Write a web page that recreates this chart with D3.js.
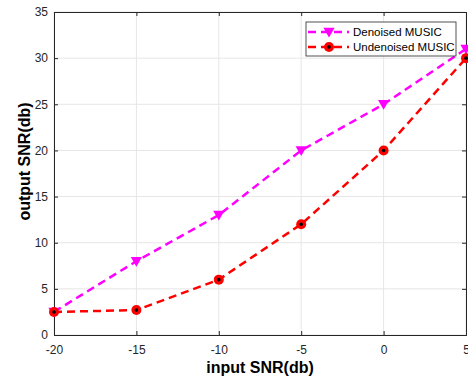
<!DOCTYPE html>
<html>
<head>
<meta charset="utf-8">
<script src="https://cdn.jsdelivr.net/npm/d3@7"></script>
<style>
  body { margin: 0; background: #fff; }
  text { font-family: "Liberation Sans", Arial, sans-serif; }
</style>
</head>
<body>
<div id="chart"></div>
<script>
// input SNR values (x)
const inputSNR = [-20, -15, -10, -5, 0, 5];
// output SNR for each method
const denoised = [2.5, 8, 13, 20, 25, 31];
const undenoised = [2.5, 2.7, 6, 12, 20, 30];
const xTicks = [-20, -15, -10, -5, 0, 5];
const yTicks = [0, 5, 10, 15, 20, 25, 30, 35];
const seriesNames = ["Denoised MUSIC", "Undenoised MUSIC"];

var W = 468, H = 385;
var margin = {top: 12, right: 2, bottom: 50, left: 54};
var width = W - margin.left - margin.right,
    height = H - margin.top - margin.bottom;

var svg = d3.select("#chart").append("svg")
  .attr("width", W).attr("height", H);

var g = svg.append("g")
  .attr("transform", "translate(" + margin.left + "," + margin.top + ")");

var x = d3.scaleLinear().domain([-20, 5]).range([0, width]);
var y = d3.scaleLinear().domain([0, 35]).range([height, 0]);

// grid
g.append("g").selectAll("line").data(xTicks).enter().append("line")
  .attr("x1", d => x(d)).attr("x2", d => x(d))
  .attr("y1", 0).attr("y2", height)
  .attr("stroke", "#e6e6e6").attr("stroke-width", 1);
g.append("g").selectAll("line").data(yTicks).enter().append("line")
  .attr("y1", d => y(d)).attr("y2", d => y(d))
  .attr("x1", 0).attr("x2", width)
  .attr("stroke", "#e6e6e6").attr("stroke-width", 1);

// axes (ticks inward), plain hyphen for negatives like matlab
var fmt = d => String(d);
var axisColor = "#262626";
var xAxis = g.append("g").attr("transform", "translate(0," + height + ")")
  .call(d3.axisBottom(x).tickValues(xTicks).tickFormat(fmt).tickSize(-4).tickPadding(10));
var yAxis = g.append("g")
  .call(d3.axisLeft(y).tickValues(yTicks).tickFormat(fmt).tickSize(-4).tickPadding(6));
var xTop = g.append("g")
  .call(d3.axisTop(x).tickValues(xTicks).tickSize(-4).tickFormat(""));
var yRight = g.append("g").attr("transform", "translate(" + width + ",0)")
  .call(d3.axisRight(y).tickValues(yTicks).tickSize(-4).tickFormat(""));
[xAxis, yAxis, xTop, yRight].forEach(function(a) {
  a.select(".domain").attr("stroke", axisColor).attr("stroke-width", 1);
  a.selectAll(".tick line").attr("stroke", axisColor);
  a.selectAll(".tick text").attr("fill", axisColor)
    .style("font-size", "12px").style("font-family", "Liberation Sans, Arial, sans-serif");
});

// lines
var line = d3.line().x((d, i) => x(inputSNR[i])).y(d => y(d));

g.append("path").datum(undenoised)
  .attr("d", line).attr("fill", "none")
  .attr("stroke", "#ff0000").attr("stroke-width", 2.5)
  .attr("stroke-dasharray", "8,5");
g.append("path").datum(denoised)
  .attr("d", line).attr("fill", "none")
  .attr("stroke", "#ff00ff").attr("stroke-width", 2.5)
  .attr("stroke-dasharray", "8,5");

// markers
var tri = d3.symbol().type(d3.symbolTriangle).size(55);
g.selectAll(".tri").data(denoised).enter().append("path")
  .attr("class", "tri")
  .attr("d", tri)
  .attr("transform", (d, i) => "translate(" + x(inputSNR[i]) + "," + (y(d) - 1) + ") rotate(180)")
  .attr("fill", "#ff00ff");

g.selectAll(".circ").data(undenoised).enter().append("circle")
  .attr("class", "circ")
  .attr("cx", (d, i) => x(inputSNR[i])).attr("cy", d => y(d))
  .attr("r", 5).attr("fill", "#ff0000");
g.selectAll(".dot").data(undenoised).enter().append("circle")
  .attr("class", "dot")
  .attr("cx", (d, i) => x(inputSNR[i])).attr("cy", d => y(d))
  .attr("r", 1.8).attr("fill", "#000");

// legend
var lg = svg.append("g").attr("transform", "translate(306,22)");
lg.append("rect").attr("width", 150).attr("height", 34)
  .attr("fill", "#fff").attr("stroke", "#262626").attr("stroke-width", 0.8);
seriesNames.forEach(function(name, i) {
  var cy = 10 + i * 15;
  var col = i === 0 ? "#ff00ff" : "#ff0000";
  lg.append("line").attr("x1", 2).attr("x2", 43).attr("y1", cy).attr("y2", cy)
    .attr("stroke", col).attr("stroke-width", 2.5).attr("stroke-dasharray", "8,5");
  if (i === 0) {
    lg.append("path").attr("d", tri)
      .attr("transform", "translate(23," + (cy - 1) + ") rotate(180)")
      .attr("fill", col);
  } else {
    lg.append("circle").attr("cx", 23).attr("cy", cy).attr("r", 5).attr("fill", col);
    lg.append("circle").attr("cx", 23).attr("cy", cy).attr("r", 1.8).attr("fill", "#000");
  }
  lg.append("text").attr("x", 47).attr("y", cy + 4)
    .style("font-size", "11.5px").attr("fill", "#000").text(name);
});

// axis labels
svg.append("text")
  .attr("x", margin.left + width / 2).attr("y", 373)
  .attr("text-anchor", "middle")
  .style("font-size", "16px").style("font-weight", "bold")
  .attr("fill", "#000").text("input SNR(db)");
svg.append("text")
  .attr("transform", "translate(30," + (margin.top + height / 2 - 12) + ") rotate(-90)")
  .attr("text-anchor", "middle")
  .style("font-size", "16px").style("font-weight", "bold")
  .attr("fill", "#000").text("output SNR(db)");
</script>
</body>
</html>
